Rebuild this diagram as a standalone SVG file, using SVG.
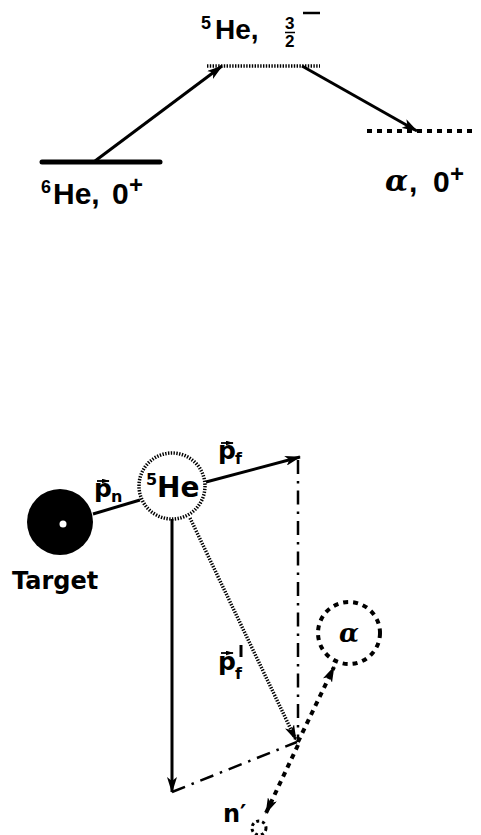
<svg xmlns="http://www.w3.org/2000/svg" width="481" height="835" viewBox="0 0 481 835">
<defs>
<style>
.lbl{font-family:"Liberation Sans",Arial,sans-serif;font-weight:bold;fill:#000}
.lb2{font-family:"DejaVu Sans",Verdana,sans-serif;font-weight:bold;fill:#000}
.solid{stroke:#000;fill:none;stroke-width:3}
.dense{stroke:#000;fill:none;stroke-width:3.5;stroke-dasharray:1.4,1.4}
.dot{stroke:#000;fill:none;stroke-width:4;stroke-dasharray:5,5}
.dashdot{stroke:#000;fill:none;stroke-width:2.5;stroke-dasharray:14,7,2.5,7}
</style>
<marker id="ah" viewBox="0 0 16 10" refX="15" refY="5" markerWidth="16" markerHeight="10" markerUnits="userSpaceOnUse" orient="auto">
<path d="M0,0 L16,5 L0,10 L4,5 Z" fill="#000"/>
</marker>
<marker id="ahs" viewBox="0 0 10 6" refX="9" refY="3" markerWidth="8" markerHeight="5" markerUnits="userSpaceOnUse" orient="auto">
<path d="M0,0 L10,3 L0,6 Z" fill="#000"/>
</marker>
</defs>

<g id="level-6He">
<line x1="42" y1="162" x2="160" y2="162" stroke="#000" stroke-width="5" stroke-linecap="round"/>
<text class="lbl" x="41" y="193" font-size="18">6</text>
<text class="lbl" x="53" y="204" font-size="30">He,</text>
<text class="lbl" x="112" y="204" font-size="30">0</text>
<text class="lbl" x="129" y="193" font-size="24">+</text>
</g>

<g id="level-5He">
<line x1="207" y1="66" x2="320" y2="66" class="dense" stroke-width="4"/>
<text class="lbl" x="201" y="29" font-size="18">5</text>
<text class="lbl" x="215" y="39" font-size="28">He,</text>
<text class="lbl" x="285" y="29" font-size="17">3</text>
<line x1="285" y1="32.5" x2="295" y2="32.5" stroke="#000" stroke-width="1.5"/>
<text class="lbl" x="285" y="47" font-size="17">2</text>
<line x1="303" y1="13" x2="320" y2="13" stroke="#000" stroke-width="2.5"/>
</g>

<g id="level-alpha">
<line x1="367" y1="131" x2="476" y2="131" class="dot"/>
<text x="385" y="191" font-family="'DejaVu Serif','Liberation Serif',serif" font-style="italic" font-weight="bold" font-size="30">α</text>
<text class="lbl" x="409" y="192" font-size="30">,</text>
<text class="lbl" x="433" y="192" font-size="30">0</text>
<text class="lbl" x="450" y="182" font-size="24">+</text>
</g>

<g id="target">
<circle cx="60" cy="522" r="33" fill="#000"/>
<circle cx="63" cy="524" r="3.5" fill="#fff"/>
<text class="lb2" x="12" y="589" font-size="24">Target</text>
</g>

<g id="He5">
<circle cx="172" cy="486" r="33" class="dense" fill="#fff"/>
<text class="lb2" x="146" y="485" font-size="16">5</text>
<text class="lb2" x="157" y="497" font-size="28">He</text>
</g>

<g id="alpha">
<circle cx="349" cy="633" r="31" class="dot" stroke-dasharray="6,5" fill="none"/>
<text x="349" y="642" text-anchor="middle" font-family="'DejaVu Serif','Liberation Serif',serif" font-style="italic" font-weight="bold" font-size="26">α</text>
</g>

<g id="neutron">
<circle cx="259" cy="828" r="7" stroke="#000" stroke-width="3" stroke-dasharray="3,3" fill="none"/>
<text class="lb2" x="223" y="822" font-size="24">n′</text>
</g>

<g id="labels">
<text class="lb2" x="94" y="497" font-size="25">p</text>
<text class="lb2" x="111" y="502" font-size="16">n</text>
<line x1="97" y1="481" x2="109" y2="481" stroke="#000" stroke-width="1.8" marker-end="url(#ahs)"/>
<text class="lb2" x="218" y="459" font-size="25">p</text>
<text class="lb2" x="235" y="464" font-size="16">f</text>
<line x1="221" y1="443" x2="233" y2="443" stroke="#000" stroke-width="1.8" marker-end="url(#ahs)"/>
<text class="lb2" x="218" y="670" font-size="25">p</text>
<text class="lb2" x="235" y="679" font-size="16">f</text>
<line x1="241" y1="645" x2="241" y2="657" stroke="#000" stroke-width="3"/>
<line x1="221" y1="653" x2="233" y2="653" stroke="#000" stroke-width="1.8" marker-end="url(#ahs)"/>
</g>

<g id="connectors">
<line x1="95" y1="161" x2="222" y2="66" class="solid" marker-end="url(#ah)"/>
<line x1="302" y1="66" x2="417" y2="131" class="solid" marker-end="url(#ah)"/>
<line x1="93" y1="514" x2="140" y2="500" class="solid"/>
<line x1="206" y1="482" x2="300" y2="457" class="solid" marker-end="url(#ah)"/>
<line x1="298" y1="460" x2="298" y2="742" class="dashdot"/>
<line x1="172" y1="519" x2="172" y2="792" class="solid" marker-end="url(#ah)"/>
<line x1="172" y1="792" x2="297" y2="742" class="dashdot"/>
<line x1="190" y1="518" x2="296" y2="740" class="dense" stroke-width="3" marker-end="url(#ah)"/>
<line x1="298" y1="742" x2="334" y2="667" class="dot" stroke-dasharray="4,4" marker-end="url(#ah)"/>
<line x1="298" y1="745" x2="266" y2="813" class="dot" stroke-dasharray="4,4" marker-end="url(#ah)"/>
</g>
</svg>
